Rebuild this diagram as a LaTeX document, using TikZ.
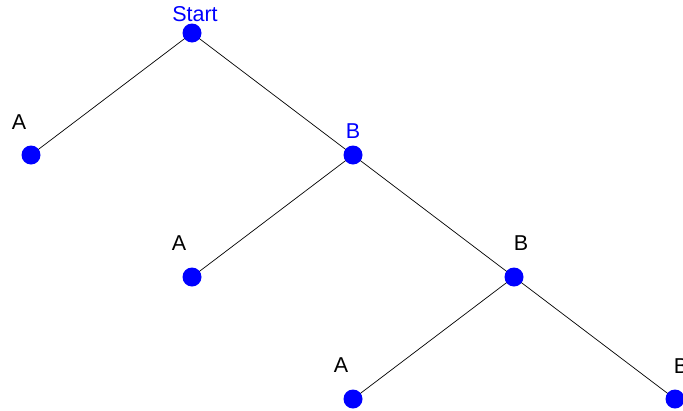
\documentclass[tikz,border=0pt]{standalone}
\usepackage{fontspec}
\setmainfont{Liberation Sans}
\usetikzlibrary{positioning,backgrounds}
\definecolor{nodeblue}{RGB}{0,0,255}

\begin{document}
\begin{tikzpicture}[
    x=1pt,y=1pt,
    on grid,
    node distance=122pt and 161pt,
    dot/.style={circle,fill=nodeblue,inner sep=0pt,minimum size=19pt},
    edge/.style={draw=black,line width=0.7pt},
    txt/.style={font=\fontsize{21.5}{24}\selectfont,inner sep=0pt,text=black},
    cur/.style={txt,text=nodeblue}
  ]
    \useasboundingbox (0,0) rectangle (683,-410);
    % tree
    \node[dot] at (192,-33) (s)  {};
    \node[dot,below left=of s]   (a1) {};
    \node[dot,below right=of s]  (b1) {};
    \node[dot,below left=of b1]  (a2) {};
    \node[dot,below right=of b1] (b2) {};
    \node[dot,below left=of b2]  (a3) {};
    \node[dot,below right=of b2] (b3) {};
    % labels
    \node[cur,above=19pt of s,xshift=3pt]   (ts)  {Start};
    \node[txt,above=33pt of a1,xshift=-12pt] (ta1) {A};
    \node[cur,above=24pt of b1]             (tb1) {B};
    \node[txt,above=34pt of a2,xshift=-13pt] (ta2) {A};
    \node[txt,above=34pt of b2,xshift=7pt]  (tb2) {B};
    \node[txt,above=34pt of a3,xshift=-12pt] (ta3) {A};
    \node[txt,above=33pt of b3,xshift=6pt]  (tb3) {B};
    \begin{scope}[on background layer]
      \draw[edge] (s.center) -- (a1.center);
      \draw[edge] (s.center) -- (b1.center);
      \draw[edge] (b1.center) -- (a2.center);
      \draw[edge] (b1.center) -- (b2.center);
      \draw[edge] (b2.center) -- (a3.center);
      \draw[edge] (b2.center) -- (b3.center);
    \end{scope}
  \end{tikzpicture}
\end{document}
